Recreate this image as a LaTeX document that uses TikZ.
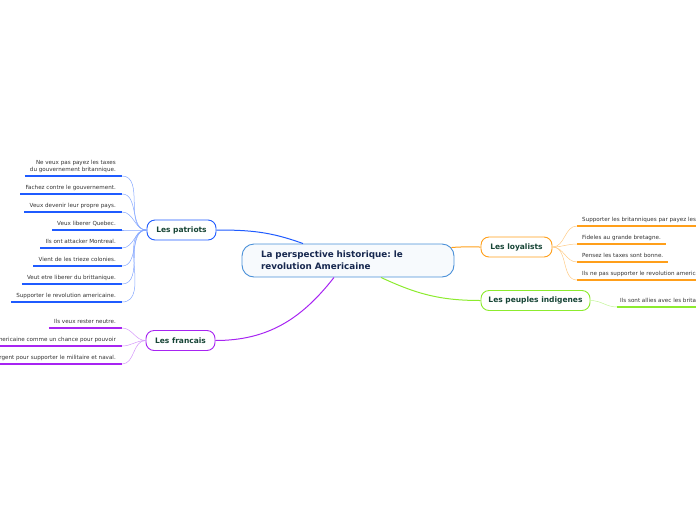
\documentclass[tikz,border=0pt]{standalone}
\usepackage{fontspec}
\setmainfont{DejaVu Sans}
\frenchspacing
\usetikzlibrary{positioning,calc}
\definecolor{mmCentreLine}{HTML}{4A90D8}
\definecolor{mmCentreBg}{HTML}{F7FAFD}
\definecolor{mmCentreText}{HTML}{17284F}
\definecolor{mmTopicText}{HTML}{174536}
\definecolor{mmSubText}{HTML}{333333}
\definecolor{mmBlueLine}{HTML}{1F5BFF}
\definecolor{mmBlueThin}{HTML}{86A8FF}
\definecolor{mmPurpleLine}{HTML}{A724F2}
\definecolor{mmPurpleThin}{HTML}{D496FA}
\definecolor{mmOrangeLine}{HTML}{FF9F1A}
\definecolor{mmOrangeThin}{HTML}{FFCB85}
\definecolor{mmGreenLine}{HTML}{8CEB2E}
\definecolor{mmGreenThin}{HTML}{C2F596}
\tikzset{
  centre box/.style={
    rectangle, rounded corners=12pt,
    draw=mmCentreLine, fill=mmCentreBg, line width=0.9pt,
    minimum height=33pt, text width=174pt, inner xsep=19pt,
    align=left, text=mmCentreText,
    font=\fontsize{8.8}{12}\selectfont\bfseries,
  },
  topic box/.style={
    rectangle, rounded corners=8pt, fill=white,
    line width=0.9pt, minimum height=20pt, inner xsep=2pt,
    text=mmTopicText, font=\fontsize{7.5}{9}\selectfont\bfseries,
  },
  sub text/.style={
    inner sep=0pt, text=mmSubText, text depth=1.4pt,
    font=\fontsize{5.6}{7}\selectfont,
  },
  sub line/.style={line width=1.6pt},
  sub link/.style={line width=0.5pt},
  main link/.style={line width=1pt},
}
\begin{document}
\begin{tikzpicture}[x=1pt, y=-1pt]

\useasboundingbox (0,0) rectangle (696,520);

% --- CENTRE AND TOPICS ---
\node[centre box] (centre) at (348,260.5)
  {La perspective historique: le\\revolution Americaine};

\node[topic box, draw=mmBlueLine, minimum width=69pt] (pat) at (181.5,230) {Les patriots};
\node[topic box, draw=mmPurpleLine, minimum width=69pt] (fra) at (180.5,340.5) {Les francais};
\node[topic box, draw=mmOrangeLine, minimum width=71pt] (loy) at (516.5,247) {Les loyalists};
\node[topic box, draw=mmGreenLine, minimum width=109pt] (peu) at (535.5,300.5) {Les peuples indigenes};

% --- MAIN LINKS ---
\draw[main link, mmBlueLine] (pat.east) to[out=0, in=160] ([xshift=-45pt]centre.north);
\draw[main link, mmPurpleLine] (fra.east) to[out=0, in=232] ([xshift=-14pt]centre.south);
\draw[main link, mmOrangeLine] ([xshift=-3pt, yshift=-4pt]centre.north east) to[out=5, in=180] (loy.west);
\draw[main link, mmGreenLine] ([xshift=33pt]centre.south) to[out=-25, in=180] (peu.west);

% --- LES PATRIOTS ---
\foreach \i/\yy/\txt in {%
  1/176/{Ne veux pas payez les taxes\\du gouvernement britannique.},%
  2/194/{Fachez contre le gouvernement.},%
  3/212/{Veux devenir leur propre pays.},%
  4/230/{Veux liberer Quebec.},%
  5/248/{Ils ont attacker Montreal.},%
  6/266/{Vient de les trieze colonies.},%
  7/284/{Veut etre liberer du brittanique.},%
  8/302/{Supporter le revolution americaine.}%
} {
  \node[sub text, align=right, anchor=south east] (p\i) at (116,\yy-2.5) {\txt};
  \coordinate (p\i r) at (122,\yy);
  \draw[sub line, mmBlueLine] ([xshift=-5pt]p\i.west |- p\i r) -- (p\i r);
  \draw[sub link, mmBlueThin] (p\i r) to[out=0, in=180] (pat.west);
}

% --- LES FRANCAIS ---
\foreach \i/\yy/\txt in {%
  1/328/{Ils veux rester neutre.},%
  2/346/{americaine comme un chance pour pouvoir},%
  3/364/{argent pour supporter le militaire et naval.}%
} {
  \node[sub text, anchor=south east] (f\i) at (116,\yy-2.5) {\txt};
  \coordinate (f\i r) at (122,\yy);
  \draw[sub line, mmPurpleLine] ([xshift=-5pt]f\i.west |- f\i r) -- (f\i r);
  \draw[sub link, mmPurpleThin] (f\i r) to[out=0, in=180] (fra.west);
}

% --- LES LOYALISTS ---
\foreach \i/\yy/\txt in {%
  1/226/{Supporter les britanniques par payez les taxes.},%
  2/244/{Fideles au grande bretagne.},%
  3/262/{Pensez les taxes sont bonne.},%
  4/280/{Ils ne pas supporter le revolution americaine.}%
} {
  \node[sub text, anchor=south west] (l\i) at (582,\yy-2.5) {\txt};
  \coordinate (l\i l) at (577,\yy);
  \draw[sub line, mmOrangeLine] (l\i l) -- ([xshift=5pt]l\i.east |- l\i l);
  \draw[sub link, mmOrangeThin] (loy.east) to[out=0, in=180] (l\i l);
}

% --- LES PEUPLES INDIGENES ---
\node[sub text, anchor=south west] (g1) at (620,304.5) {Ils sont allies avec les britanniques.};
\coordinate (g1l) at (617,307);
\draw[sub line, mmGreenLine] (g1l) -- ([xshift=5pt]g1.east |- g1l);
\draw[sub link, mmGreenThin] (peu.east) to[out=0, in=180] (g1l);

\end{tikzpicture}
\end{document}
